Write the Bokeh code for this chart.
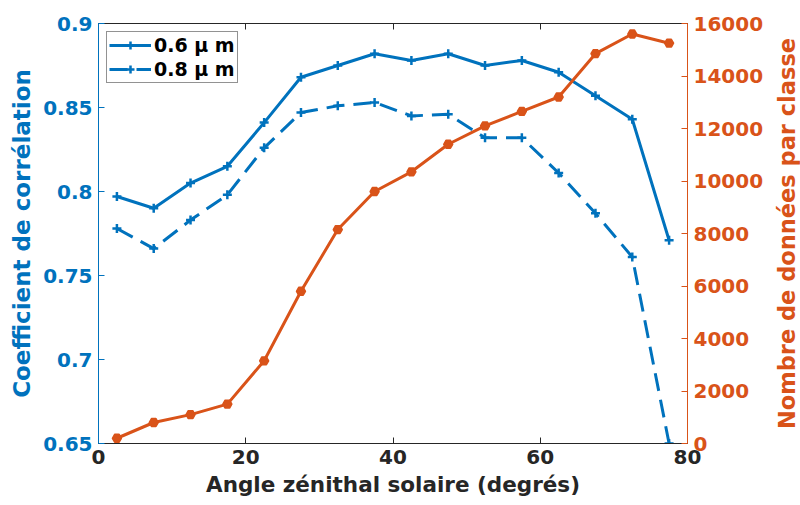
import math
from bokeh.plotting import figure
from bokeh.layouts import row
from bokeh.models import Range1d, LinearAxis, Legend, LegendItem, FixedTicker
from bokeh.core.properties import value
from bokeh.embed import file_html
from bokeh.resources import INLINE

angles = [2.5, 7.5, 12.5, 17.5, 22.5, 27.5, 32.5, 37.5, 42.5, 47.5, 52.5, 57.5, 62.5, 67.5, 72.5, 77.5]
corr_06 = [0.797, 0.790, 0.805, 0.815, 0.841, 0.868, 0.875, 0.882, 0.878, 0.882, 0.875, 0.878, 0.871, 0.857, 0.843, 0.771]
corr_08 = [0.778, 0.766, 0.783, 0.798, 0.826, 0.847, 0.851, 0.853, 0.845, 0.846, 0.832, 0.832, 0.811, 0.787, 0.761, 0.650]
counts = [200, 800, 1100, 1500, 3150, 5800, 8150, 9600, 10350, 11400, 12100, 12650, 13200, 14850, 15600, 15250]

left_ticks = [0.65, 0.7, 0.75, 0.8, 0.85, 0.9]
left_labels = ["0.65", "0.7", "0.75", "0.8", "0.85", "0.9"]
right_ticks = [0, 2000, 4000, 6000, 8000, 10000, 12000, 14000, 16000]
x_ticks = [0, 20, 40, 60, 80]
right_title = "Nombre de données par classe"

BLUE = "#0072BD"
ORANGE = "#D95319"
GRAY = "#262626"
FONT = "DejaVu Sans"

p = figure(width=773, height=505, output_backend="svg", toolbar_location=None,
           x_range=Range1d(0, 80), y_range=Range1d(0.65, 0.9),
           min_border_left=98, min_border_right=86, min_border_top=23, min_border_bottom=62)
p.extra_y_ranges = {"count": Range1d(0, 16000)}
p.grid.visible = False
p.outline_line_color = GRAY
p.outline_line_width = 1

# axes
p.xaxis.ticker = FixedTicker(ticks=x_ticks)
p.xaxis.axis_label = "Angle zénithal solaire (degrés)"
p.yaxis.ticker = FixedTicker(ticks=left_ticks)
p.yaxis.major_label_overrides = {t: l for t, l in zip(left_ticks, left_labels)}
p.yaxis.axis_label = "Coefficient de corrélation"

for ax in p.xaxis:
    ax.axis_line_color = GRAY
    ax.major_tick_line_color = GRAY
    ax.major_label_text_color = GRAY
    ax.axis_label_text_color = GRAY
    ax.axis_label_text_font_size = "21.5px"
for ax in p.yaxis:
    ax.axis_line_color = BLUE
    ax.major_tick_line_color = BLUE
    ax.major_label_text_color = BLUE
    ax.axis_label_text_color = BLUE
    ax.axis_label_text_font_size = "23px"

raxis = LinearAxis(y_range_name="count", ticker=FixedTicker(ticks=right_ticks))
raxis.axis_line_color = ORANGE
raxis.major_tick_line_color = ORANGE
raxis.major_label_text_color = ORANGE
p.add_layout(raxis, "right")

for ax in list(p.xaxis) + list(p.yaxis) + [raxis]:
    ax.major_tick_in = 6
    ax.major_tick_out = 0
    ax.minor_tick_line_color = None
    ax.major_label_text_font = FONT
    ax.major_label_text_font_style = "bold"
    ax.major_label_text_font_size = "20px"
    ax.major_label_standoff = 6
    ax.axis_label_text_font = FONT
    ax.axis_label_text_font_style = "bold"
    ax.axis_label_standoff = 5

# top ticks (box ticks)
top = LinearAxis(ticker=FixedTicker(ticks=x_ticks),
                 major_label_overrides={t: "" for t in x_ticks},
                 axis_line_color=None, major_tick_line_color=GRAY, major_tick_in=6,
                 major_tick_out=0, minor_tick_line_color=None)
p.add_layout(top, "above")

# data
l1 = p.line(angles, corr_06, line_color=BLUE, line_width=3)
m1 = p.scatter(angles, corr_06, marker="cross", size=9, line_color=BLUE, line_width=2.5)
l2 = p.line(angles, corr_08, line_color=BLUE, line_width=3, line_dash="18 9")
m2 = p.scatter(angles, corr_08, marker="cross", size=9, line_color=BLUE, line_width=2.5)
l3 = p.line(angles, counts, line_color=ORANGE, line_width=3, y_range_name="count")
m3 = p.scatter(angles, counts, marker="hex", size=9, fill_color=ORANGE, line_color=ORANGE,
               line_width=1.5, y_range_name="count")

legend = Legend(items=[LegendItem(label="0.6 μ m", renderers=[l1, m1]),
                       LegendItem(label="0.8 μ m", renderers=[l2, m2])],
                location="top_left")
legend.label_text_font = FONT
legend.label_text_font_style = "bold"
legend.label_text_font_size = "19px"
legend.label_text_color = "#000000"
legend.border_line_color = GRAY
legend.border_line_width = 1
legend.glyph_width = 42
legend.glyph_height = 20
legend.label_standoff = 3
legend.spacing = 2
legend.padding = 2
legend.margin = 8
legend.label_height = 20
p.add_layout(legend)

# narrow strip holding the right-axis title, reading bottom-to-top
p2 = figure(width=27, height=505, output_backend="svg", toolbar_location=None,
            x_range=Range1d(-1, 1), y_range=Range1d(-1, 1),
            x_axis_type=None, y_axis_type=None,
            min_border_left=0, min_border_right=0, min_border_top=0, min_border_bottom=39)
p2.grid.visible = False
p2.outline_line_color = None
p2.text(x=[0], y=[0], text=[right_title], angle=math.pi / 2,
        text_align="center", text_baseline="middle",
        text_font=value(FONT), text_font_style="bold", text_font_size="22.5px",
        text_color=ORANGE)

layout = row(p, p2, spacing=0)
open("out.html", "w").write(file_html(layout, INLINE))
